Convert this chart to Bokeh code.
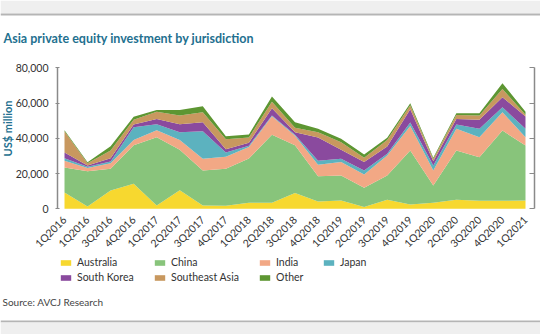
import math
from bokeh.plotting import figure
from bokeh.models import (ColumnDataSource, FixedTicker, NumeralTickFormatter, LinearAxis,
                          Range1d, Label, Legend, LegendItem, BoxAnnotation)
from bokeh.embed import file_html
from bokeh.resources import INLINE

quarters = ["1Q2016", "1Q2016", "3Q2016", "4Q2016", "1Q2017", "2Q2017", "3Q2017", "4Q2017",
            "1Q2018", "2Q2018", "3Q2018", "4Q2018", "1Q2019", "2Q2019", "3Q2019", "4Q2019",
            "1Q2020", "2Q2020", "3Q2020", "4Q2020", "1Q2021"]

australia = [9300, 1300, 10400, 14200, 1900, 10500, 1900, 1700, 3500, 3500, 9000, 4200, 4700, 1000, 5100, 2500, 3500, 5200, 4500, 4500, 4700]
china = [14200, 20000, 12300, 21800, 38700, 23000, 19800, 21000, 25000, 38500, 27000, 14300, 14200, 10900, 13800, 30600, 9700, 27900, 24800, 39900, 31200]
india = [3800, 1800, 3200, 3000, 4000, 5500, 6700, 6800, 6500, 10500, 5500, 6500, 7600, 7600, 11300, 13900, 8500, 12300, 11300, 10400, 4700]
japan = [1400, 700, 900, 7300, 3400, 4500, 15600, 2500, 800, 500, 500, 2300, 1900, 2200, 1000, 2000, 2900, 2400, 4800, 2800, 4800]
south_korea = [3300, 800, 1900, 1500, 3000, 4500, 5100, 1800, 1700, 4000, 1500, 13200, 5100, 4800, 4100, 7500, 2400, 3200, 5100, 5700, 7000]
southeast_asia = [12000, 1200, 4400, 2700, 4000, 5000, 5700, 5600, 3000, 3800, 2500, 3000, 4300, 2400, 3800, 2300, 1300, 2200, 2500, 4700, 900]
other = [600, 600, 2400, 1700, 1000, 3000, 3400, 1700, 1700, 2900, 3100, 1900, 1900, 1900, 1200, 1100, 700, 1000, 1200, 3300, 1700]

y_ticks = [0, 20000, 40000, 60000, 80000]

series_names = ["Australia", "China", "India", "Japan", "South Korea", "Southeast Asia", "Other"]
series_keys = ["australia", "china", "india", "japan", "south_korea", "southeast_asia", "other"]
colors = ["#f7d82f", "#88c47b", "#f2a885", "#5cb2bf", "#8a4a9e", "#c8985f", "#5d9632"]

source = ColumnDataSource(dict(
    x=list(range(len(quarters))),
    australia=australia, china=china, india=india, japan=japan,
    south_korea=south_korea, southeast_asia=southeast_asia, other=other,
))

FONT = "Lato"
TEAL = "#23708f"
W, H = 540, 334

# pixel layout of the plotting area inside the 540x334 canvas
X0_PX, X_STEP_PX = 64.0, 23.05          # first quarter position, pixels per quarter
Y0_PX, Y_TOP_PX = 208.3, 67.3           # canvas rows of 0 and 80,000
UNITS_PER_PX = 80000 / (Y0_PX - Y_TOP_PX)

x_start = -X0_PX / X_STEP_PX
x_end = (W - X0_PX) / X_STEP_PX
y_start = -(H - Y0_PX) * UNITS_PER_PX
y_end = Y0_PX * UNITS_PER_PX


def ydata(py):
    return (Y0_PX - py) * UNITS_PER_PX


p = figure(width=W, height=H, output_backend="svg", toolbar_location=None,
           x_range=Range1d(x_start, x_end), y_range=Range1d(y_start, y_end),
           x_axis_type=None, y_axis_type=None, min_border=0,
           min_border_left=0, min_border_right=0, min_border_top=0, min_border_bottom=0)
p.outline_line_color = None
p.grid.visible = False
p.background_fill_color = "white"
p.border_fill_color = "white"

renderers = p.varea_stack(stackers=series_keys, x="x", color=colors, source=source)

# x axis at y = 0
xaxis = LinearAxis(fixed_location=0, ticker=FixedTicker(ticks=list(range(len(quarters)))))
xaxis.major_label_overrides = {i: q for i, q in enumerate(quarters)}
xaxis.major_label_orientation = math.pi / 4
xaxis.axis_line_color = None
xaxis.major_tick_line_color = None
xaxis.minor_tick_line_color = None
xaxis.major_label_text_font = FONT
xaxis.major_label_text_font_size = "10.5px"
xaxis.major_label_text_color = "#333333"
xaxis.major_label_standoff = 3
p.add_layout(xaxis, "below")

# left axis
yaxis = LinearAxis(fixed_location=(57 - X0_PX) / X_STEP_PX, ticker=FixedTicker(ticks=y_ticks),
                   bounds=(0, 80000), formatter=NumeralTickFormatter(format="0,0"))
yaxis.axis_line_color = "#8a8a8a"
yaxis.axis_line_width = 1.5
yaxis.major_tick_line_color = "#8a8a8a"
yaxis.major_tick_in = 2
yaxis.major_tick_out = 2
yaxis.minor_tick_line_color = None
yaxis.major_label_text_font = FONT
yaxis.major_label_text_font_size = "10.5px"
yaxis.major_label_text_color = "#333333"
yaxis.major_label_standoff = 7
p.add_layout(yaxis, "left")

# right axis (ticks only)
raxis = LinearAxis(fixed_location=(534 - X0_PX) / X_STEP_PX, ticker=FixedTicker(ticks=y_ticks),
                   bounds=(0, 80000))
raxis.axis_line_color = "#8a8a8a"
raxis.axis_line_width = 1.5
raxis.major_tick_line_color = "#8a8a8a"
raxis.major_tick_in = 5
raxis.major_tick_out = 0
raxis.minor_tick_line_color = None
raxis.major_label_text_color = None
raxis.major_label_text_font_size = "1px"
raxis.major_label_standoff = 0
p.add_layout(raxis, "right")

# page bands
p.add_layout(BoxAnnotation(left=x_start, right=x_end, top=y_end, bottom=ydata(13),
                           fill_color="#efefef", fill_alpha=1, line_color=None))
p.add_layout(BoxAnnotation(left=x_start, right=x_end, top=ydata(13), bottom=ydata(15),
                           fill_color="#b5b5b5", fill_alpha=1, line_color=None))
p.add_layout(BoxAnnotation(left=x_start, right=x_end, top=ydata(320), bottom=ydata(322),
                           fill_color="#b5b5b5", fill_alpha=1, line_color=None))
p.add_layout(BoxAnnotation(left=x_start, right=x_end, top=ydata(322), bottom=y_start,
                           fill_color="#efefef", fill_alpha=1, line_color=None))

# texts (screen units from the bottom-left of the canvas)
p.add_layout(Label(x=3, y=H - 38, x_units="screen", y_units="screen",
                   text="Asia private equity investment by jurisdiction",
                   text_font=FONT, text_font_size="12.5px", text_font_style="bold",
                   text_color=TEAL, text_baseline="middle", text_align="left"))
p.add_layout(Label(x=7, y=H - 128, x_units="screen", y_units="screen", text="US$ million",
                   angle=math.pi / 2, text_font=FONT, text_font_size="11px",
                   text_font_style="bold", text_color=TEAL, text_baseline="middle",
                   text_align="center"))
p.add_layout(Label(x=2, y=H - 301, x_units="screen", y_units="screen",
                   text="Source: AVCJ Research",
                   text_font=FONT, text_font_size="10px", text_color="#444444",
                   text_baseline="middle", text_align="left"))

# legend entries placed like the reference (bottom-left corners)
positions = [(59, 65.5), (153, 65.5), (258, 65.5), (322, 65.5),
             (59, 50.5), (153, 50.5), (258, 50.5)]
for name, r, pos in zip(series_names, renderers, positions):
    lg = Legend(items=[LegendItem(label=name, renderers=[r])], location=pos,
                border_line_color=None, background_fill_alpha=0, padding=0, margin=0,
                spacing=0, glyph_width=13, glyph_height=7, label_standoff=5,
                label_text_font=FONT, label_text_font_size="10.5px",
                label_text_color="#333333", label_height=13)
    p.add_layout(lg, "center")

open("out.html", "w").write(file_html(p, INLINE))
